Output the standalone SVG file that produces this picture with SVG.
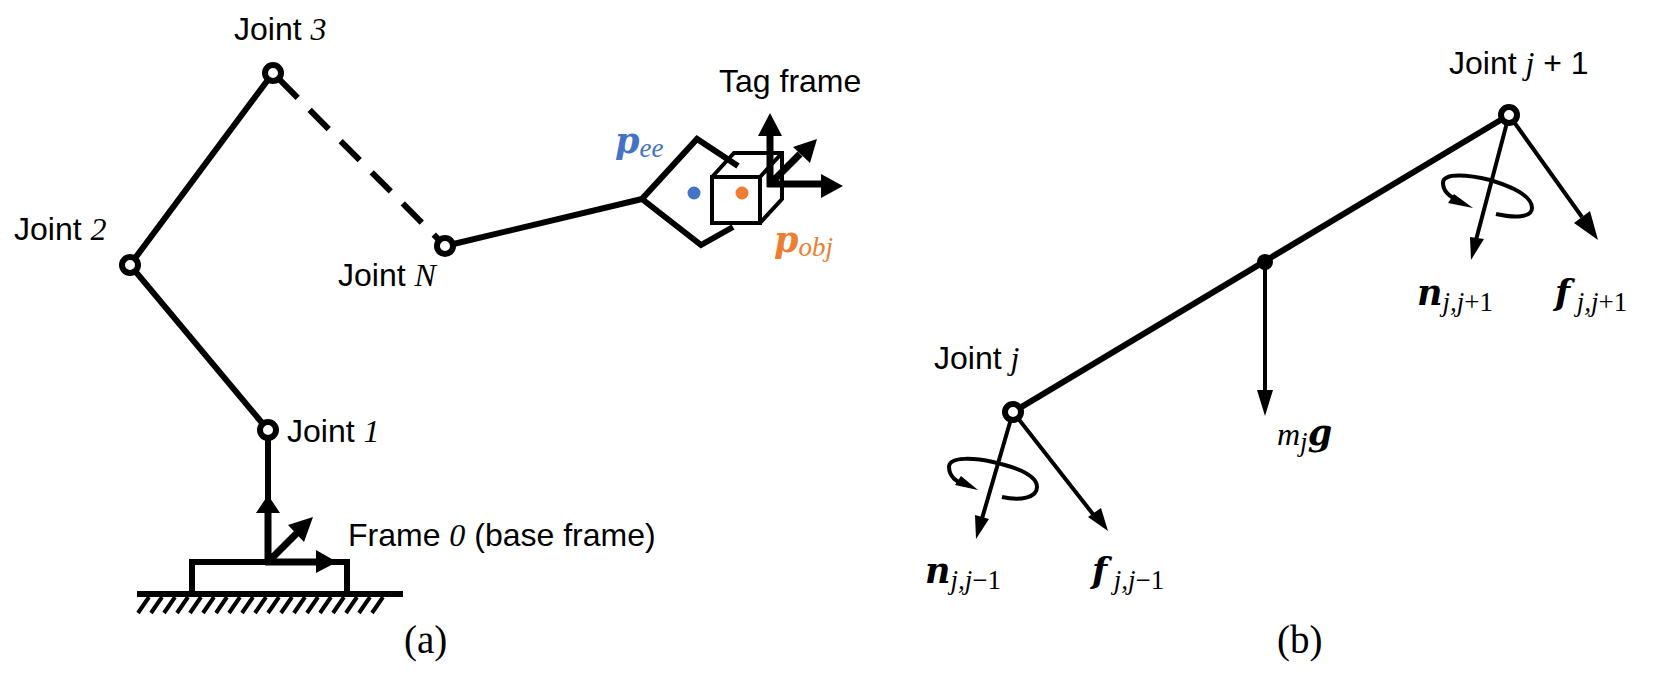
<svg xmlns="http://www.w3.org/2000/svg" width="1668" height="673" viewBox="0 0 1668 673">
<style>
.l{fill:none;stroke:#000;stroke-width:6}
.c{fill:none;stroke:#000;stroke-width:4}
.a{fill:none;stroke:#000;stroke-width:7}
.n{fill:none;stroke:#000;stroke-width:4}
.h{fill:#000;stroke:none}
.j{fill:#fff;stroke:#000;stroke-width:6}
text{font-family:"Liberation Sans",Arial,sans-serif;font-size:32px;fill:#000}
.i{font-family:"Liberation Serif",serif;font-style:italic}
.m{font-family:"DejaVu Serif","Liberation Serif",serif;font-style:italic;font-weight:bold;font-size:35px}
.s{font-family:"Liberation Serif",serif;font-style:italic;font-weight:normal;font-size:27px}
.u{font-family:"Liberation Serif",serif;font-style:normal;font-weight:normal;font-size:27px}
.r{font-family:"Liberation Serif",serif;font-size:39px}
</style>
<rect width="1668" height="673" fill="#fff"/>
<g id="connectors">
<path class="l" d="M268 430V500M268 430L130 265L273 73M445 246L642 199"/>
<path class="l" stroke-dasharray="27 17" stroke-dashoffset="-8" d="M273 73L445 246"/>
<path class="n" d="M1013 412L981 522M1013 412L1096 518M1509 115L1476 240M1509 115L1582 217M1265 262V392"/>
<path class="n" stroke-width="3.6" d="M1002 497C1020 501 1037 498 1037 487C1037 475 1015 467 993 462C975 458 949 456 949 467C949 477 958 483 965 485"/>
<path class="n" stroke-width="3.6" d="M1496 214C1514 218 1532 218 1532 208C1532 195 1510 186 1490 180C1470 175 1443 172 1443 183C1443 193 1452 198 1460 201"/>
<path class="h" d="M976 539L975 515L989 519ZM1108 531L1088 517L1101 508ZM1471 260L1470 237L1484 239ZM1598 240L1574 223L1590 211ZM1265 416L1257 390H1273ZM978 490L955 485L961 476ZM1473 208L1448 203L1454 194Z"/>
</g>
<g id="base">
<path class="l" d="M192 593V562H347V593"/>
<path class="l" d="M137 594H403"/>
<path class="c" stroke-width="4.5" d="M149 597L138 613M162 597L151 613M175 597L164 613M188 597L177 613M201 597L190 613M214 597L203 613M227 597L216 613M240 597L229 613M253 597L242 613M266 597L255 613M279 597L268 613M292 597L281 613M305 597L294 613M318 597L307 613M331 597L320 613M344 597L333 613M357 597L346 613M370 597L359 613M383 597L372 613"/>
</g>
<g id="frame0">
<path class="a" d="M268 565V510M268 562L297 533M265 562H320"/>
<path class="h" d="M268 495L280 513H256ZM313 517L304 542L288 525ZM337 562L316 573V550Z"/>
<text x="348" y="546">Frame <tspan class="i">0</tspan> (base frame)</text>
</g>
<g id="gripper">
<path class="l" d="M738 166L697 139L642 199L701 245L733 227"/>
<circle cx="694" cy="193" r="6.5" fill="#4472C4"/>
<text class="m" x="615" y="153" fill="#4472C4" style="fill:#4472C4">p<tspan class="s" dy="4" style="fill:#4472C4">ee</tspan></text>
</g>
<g id="tag-object">
<path class="c" d="M712 177H760V223H712ZM712 177L734 153H782V199L760 223M760 177L782 153"/>
<circle cx="742" cy="193" r="6.5" fill="#ED7D31"/>
<text class="m" x="774" y="252" style="fill:#ED7D31">p<tspan class="s" dy="4" style="fill:#ED7D31">obj</tspan></text>
</g>
<g id="tag-frame">
<path class="a" d="M770 187V130M767 184H826M770 184L800 154"/>
<path class="h" d="M770 113L782 136H758ZM843 186L821 198V174ZM817 139L810 163L793 147Z"/>
<text x="719" y="92">Tag frame</text>
</g>
<g id="joint-1"><circle class="j" cx="268" cy="430" r="8"/><text x="287" y="442">Joint <tspan class="i">1</tspan></text></g>
<g id="joint-2"><circle class="j" cx="130" cy="265" r="8"/><text x="14" y="240">Joint <tspan class="i">2</tspan></text></g>
<g id="joint-3"><circle class="j" cx="273" cy="73" r="8"/><text x="234" y="40">Joint <tspan class="i">3</tspan></text></g>
<g id="joint-N"><circle class="j" cx="445" cy="246" r="8"/><text x="338" y="286">Joint <tspan class="i">N</tspan></text></g>
<g id="link-j">
<path class="l" d="M1013 412L1509 115"/>
<circle cx="1265" cy="262" r="8" fill="#000"/>
<text class="i" x="1277" y="445">m<tspan class="s" dy="6">j</tspan><tspan class="m" dy="-6">g</tspan></text>
</g>
<g id="joint-j">
<circle class="j" cx="1013" cy="412" r="8"/>
<text x="934" y="369">Joint <tspan class="i">j</tspan></text>
<text class="m" x="925" y="583">n<tspan class="s" dy="6">j,j</tspan><tspan class="u">−1</tspan></text>
<text class="m" x="1092" y="583">f<tspan class="s" dy="6"> j,j</tspan><tspan class="u">−1</tspan></text>
</g>
<g id="joint-j1">
<circle class="j" cx="1509" cy="115" r="8"/>
<text x="1449" y="74">Joint <tspan class="i">j</tspan> + 1</text>
<text class="m" x="1417" y="305">n<tspan class="s" dy="6">j,j</tspan><tspan class="u">+1</tspan></text>
<text class="m" x="1555" y="305">f<tspan class="s" dy="6"> j,j</tspan><tspan class="u">+1</tspan></text>
</g>
<text class="r" x="404" y="653">(a)</text>
<text class="r" x="1277" y="653">(b)</text>
</svg>
